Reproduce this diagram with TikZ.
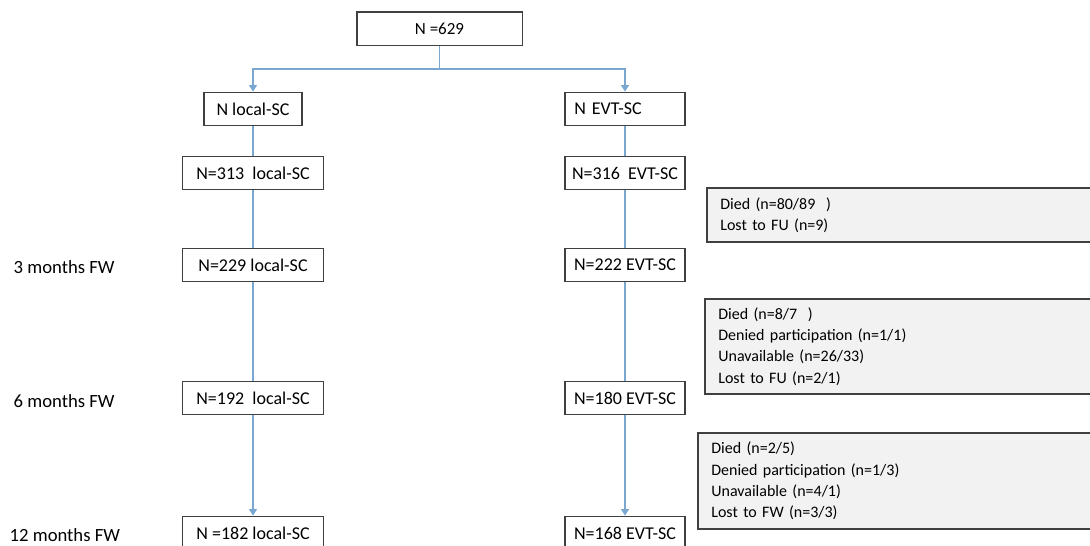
\documentclass[tikz,border=0pt]{standalone}
\usepackage{fontspec}
\setmainfont{Carlito}
\usetikzlibrary{arrows.meta}
\definecolor{flowblue}{HTML}{7AA6D2}
\definecolor{boxline}{HTML}{404040}
\definecolor{lossgray}{HTML}{F2F2F2}
\begin{document}
\begin{tikzpicture}[x=0.75pt,y=-0.75pt,
                        count/.style={shape=rectangle,draw=boxline,line width=1pt,minimum height=25pt,inner sep=2pt,
                                      font=\fontsize{13.5}{16}\selectfont},
                        wide/.style={count,minimum width=106pt},
                        narrow/.style={count,minimum width=90pt},
                        loss/.style={shape=rectangle,draw=boxline,line width=1.5pt,fill=lossgray,anchor=north west,
                                     align=left,text width=280pt,inner xsep=10pt,inner ysep=2pt,
                                     font=\fontsize{12}{16}\selectfont},
                        period/.style={anchor=west,font=\fontsize{14}{16}\selectfont},
                        link/.style={draw=flowblue,line width=1.1pt},
                        feed/.style={link,-{Triangle[width=6pt,length=5pt]}}]
                        \useasboundingbox (0,0) rectangle (1090,546);
                        \clip (0,0) rectangle (1090,546);
                        % top and the two arms
                        \node[count,minimum width=124pt,font=\fontsize{12.75}{16}\selectfont] (total) at (439.5,28.5) {N =629};
                        \node[count,minimum width=73.5pt] (armloc) at (253,109) {N local-SC};
                        \node[narrow,text width=76pt,align=left] (armevt) at (625,109) {N EVT-SC};
                        % local-SC column
                        \node[wide] (loc0) at (253,173) {N=313\ \ local-SC};
                        \node[wide] (loc3) at (253,265) {N=229 local-SC};
                        \node[wide] (loc6) at (253,398) {N=192\ \ local-SC};
                        \node[wide] (loc12) at (253,533) {N =182 local-SC};
                        % EVT-SC column
                        \node[narrow] (evt0) at (625,173) {N=316\ \ EVT-SC};
                        \node[narrow] (evt3) at (625,265) {N=222 EVT-SC};
                        \node[narrow] (evt6) at (625,398) {N=180 EVT-SC};
                        \node[narrow] (evt12) at (625,533) {N=168 EVT-SC};
                        % follow-up times
                        \node[period] (fw3) at (9,267) {3 months FW};
                        \node[period] (fw6) at (9,401) {6 months FW};
                        \node[period] (fw12) at (5,535) {12 months FW};
                        % losses
                        \node[loss,minimum height=40.5pt] (lossa) at (706,187) {Died (n=80/89\ \ )\\Lost to FU (n=9)};
                        \node[loss,minimum height=71pt] (lossb) at (704,298) {Died (n=8/7\ \ )\\Denied participation (n=1/1)\\Unavailable (n=26/33)\\Lost to FU (n=2/1)};
                        \node[loss,minimum height=72pt] (lossc) at (697,432) {Died (n=2/5)\\Denied participation (n=1/3)\\Unavailable (n=4/1)\\Lost to FW (n=3/3)};
                        % connectors
                        \coordinate (split) at (439.5,69);
                        \draw[link] (total) -- (split);
                        \draw[feed] (split) -| (armloc);
                        \draw[feed] (split) -| (armevt);
                        \draw[link] (armloc) -- (loc0);
                        \draw[link] (loc0) -- (loc3);
                        \draw[link] (loc3) -- (loc6);
                        \draw[feed] (loc6) -- (loc12);
                        \draw[link] (armevt) -- (evt0);
                        \draw[link] (evt0) -- (evt3);
                        \draw[link] (evt3) -- (evt6);
                        \draw[feed] (evt6) -- (evt12);
                \end{tikzpicture}
\end{document}
